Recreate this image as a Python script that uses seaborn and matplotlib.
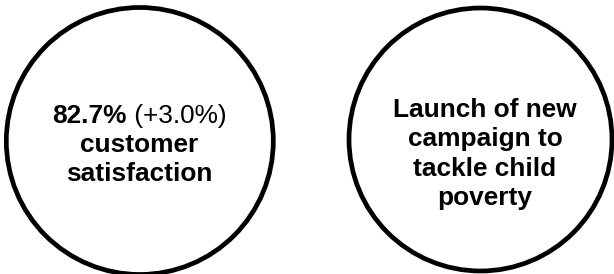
import matplotlib
matplotlib.use("Agg")
import matplotlib.pyplot as plt
import seaborn as sns
from matplotlib.patches import Circle

# data
kpi_value = 82.7
kpi_change = 3.0
kpi_lines = ["customer", "satisfaction"]
news_lines = ["Launch of new", "campaign to", "tackle child", "poverty"]

sns.set_theme(style="white")
plt.rcParams["font.family"] = ["Liberation Sans", "DejaVu Sans"]
plt.rcParams["text.color"] = "black"

W, H = 614, 274
fig = plt.figure(figsize=(W / 100, H / 100), dpi=100)
ax = fig.add_axes([0, 0, 1, 1])
ax.set_xlim(0, W)
ax.set_ylim(H, 0)
ax.set_aspect("equal")
ax.axis("off")

fs = 18.9
lw = 3.4

# circles
ax.add_patch(Circle((139.8, 141.0), 133.5, fill=False, ec="black", lw=lw))
ax.add_patch(Circle((480.5, 139.5), 131.5, fill=False, ec="black", lw=lw))

# left bubble: first line mixes bold value and normal change
fig.canvas.draw()
r = fig.canvas.get_renderer()
bold = ax.text(0, 123.3, f"{kpi_value:.1f}%", fontsize=fs, fontweight="bold",
               va="baseline", ha="left", color="black")
norm = ax.text(0, 123.3, f" (+{kpi_change:.1f}%)", fontsize=fs,
               va="baseline", ha="left", color="black")
wb = bold.get_window_extent(r).width
wn = norm.get_window_extent(r).width
x0 = 139.5 - (wb + wn) / 2
bold.set_x(x0)
norm.set_x(x0 + wb)

for i, line in enumerate(kpi_lines):
    ax.text(139.5, 152.3 + i * 28.5, line, fontsize=fs, fontweight="bold",
            ha="center", va="baseline", color="black")

for i, line in enumerate(news_lines):
    ax.text(485, 116.7 + i * 29.4, line, fontsize=fs, fontweight="bold",
            ha="center", va="baseline", color="black")

fig.savefig("out.png", dpi=100, facecolor="white")
